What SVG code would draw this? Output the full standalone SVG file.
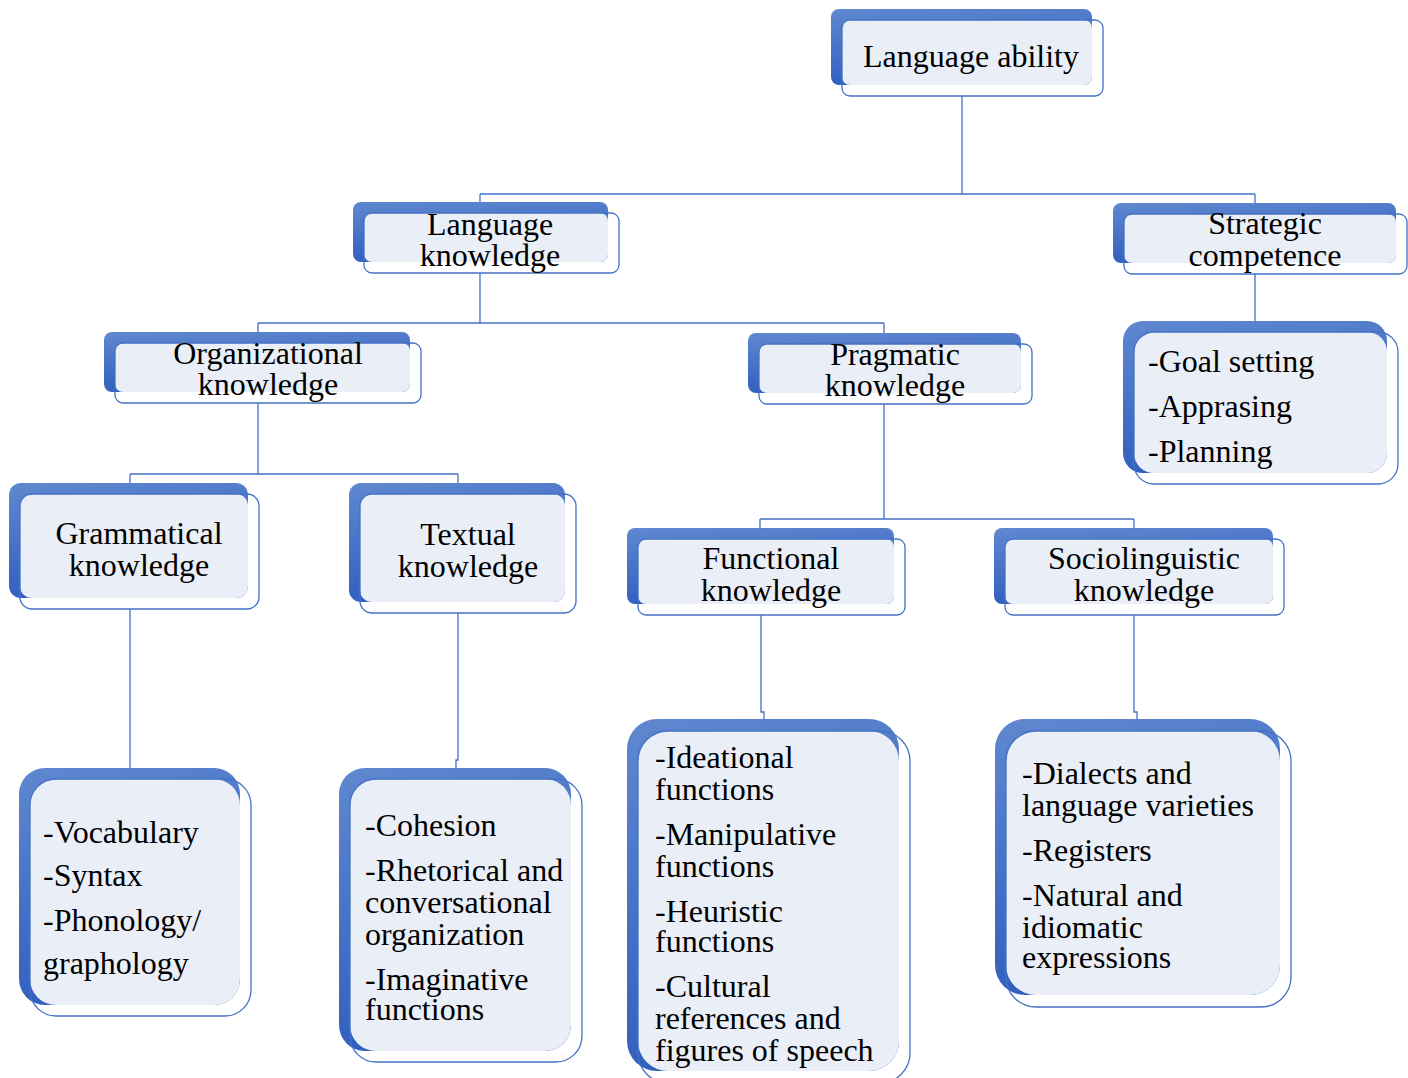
<svg xmlns="http://www.w3.org/2000/svg" width="1408" height="1078" viewBox="0 0 1408 1078">
<defs>
<linearGradient id="bg" x1="0" y1="0" x2="0.25" y2="1">
<stop offset="0" stop-color="#6088D0"/>
<stop offset="1" stop-color="#2F5EBE"/>
</linearGradient>
<style>
.back{fill:url(#bg);}
.face{fill:#E9EEF7;}
.edge{fill:none;stroke:#4472C4;stroke-width:1.3;}
.t{font-family:"Liberation Serif","Times New Roman",serif;font-size:32px;fill:#000;}
.c{text-anchor:middle;}
.conn{fill:none;stroke:#4472C4;stroke-width:1.3;}
</style>
</defs>
<rect width="1408" height="1078" fill="#fff"/>
<g id="connectors">
<path class="conn" d="M962,96 V194 M480,194 H1255 M480,194 V213 M1255,194 V214"/>
<path class="conn" d="M480,273 V323 M258,323 H884 M258,323 V343 M884,323 V344"/>
<path class="conn" d="M1255,274 V321"/>
<path class="conn" d="M258,403 V474 M130,474 H458 M130,474 V494 M458,474 V494"/>
<path class="conn" d="M884,404 V519 M760,519 H1134 M760,519 V539 M1134,519 V539"/>
<path class="conn" d="M130,609 V768"/>
<path class="conn" d="M458,613 V760 H456 V768"/>
<path class="conn" d="M761,615 V712 H764 V719"/>
<path class="conn" d="M1134,615 V712 H1137 V719"/>
</g>
<g id="n-ability">
<rect class="back" x="831" y="9" width="261" height="76" rx="8"/>
<rect class="face" x="842" y="20" width="250" height="65" rx="8"/>
<rect class="edge" x="842" y="20" width="261" height="76" rx="8"/>
<text class="t c" x="971" y="67">Language ability</text>
</g>
<g id="n-langknow">
<rect class="back" x="353" y="202" width="255" height="60" rx="8"/>
<rect class="face" x="364" y="213" width="244" height="49" rx="8"/>
<rect class="edge" x="364" y="213" width="255" height="60" rx="8"/>
<text class="t c" x="490" y="235">Language</text>
<text class="t c" x="490" y="266">knowledge</text>
</g>
<g id="n-strategic">
<rect class="back" x="1113" y="203" width="283" height="60" rx="8"/>
<rect class="face" x="1124" y="214" width="272" height="49" rx="8"/>
<rect class="edge" x="1124" y="214" width="283" height="60" rx="8"/>
<text class="t c" x="1265" y="234">Strategic</text>
<text class="t c" x="1265" y="266">competence</text>
</g>
<g id="n-org">
<rect class="back" x="104" y="332" width="306" height="60" rx="8"/>
<rect class="face" x="115" y="343" width="295" height="49" rx="8"/>
<rect class="edge" x="115" y="343" width="306" height="60" rx="8"/>
<text class="t c" x="268" y="364">Organizational</text>
<text class="t c" x="268" y="395">knowledge</text>
</g>
<g id="n-prag">
<rect class="back" x="748" y="333" width="273" height="60" rx="8"/>
<rect class="face" x="759" y="344" width="262" height="49" rx="8"/>
<rect class="edge" x="759" y="344" width="273" height="60" rx="8"/>
<text class="t c" x="895" y="365">Pragmatic</text>
<text class="t c" x="895" y="396">knowledge</text>
</g>
<g id="n-gram">
<rect class="back" x="9" y="483" width="239" height="115" rx="12"/>
<rect class="face" x="20" y="494" width="228" height="104" rx="12"/>
<rect class="edge" x="20" y="494" width="239" height="115" rx="12"/>
<text class="t c" x="139" y="544">Grammatical</text>
<text class="t c" x="139" y="576">knowledge</text>
</g>
<g id="n-text">
<rect class="back" x="349" y="483" width="216" height="119" rx="12"/>
<rect class="face" x="360" y="494" width="205" height="108" rx="12"/>
<rect class="edge" x="360" y="494" width="216" height="119" rx="12"/>
<text class="t c" x="468" y="545">Textual</text>
<text class="t c" x="468" y="577">knowledge</text>
</g>
<g id="n-func">
<rect class="back" x="627" y="528" width="267" height="76" rx="8"/>
<rect class="face" x="638" y="539" width="256" height="65" rx="8"/>
<rect class="edge" x="638" y="539" width="267" height="76" rx="8"/>
<text class="t c" x="771" y="569">Functional</text>
<text class="t c" x="771" y="601">knowledge</text>
</g>
<g id="n-socio">
<rect class="back" x="994" y="528" width="279" height="76" rx="8"/>
<rect class="face" x="1005" y="539" width="268" height="65" rx="8"/>
<rect class="edge" x="1005" y="539" width="279" height="76" rx="8"/>
<text class="t c" x="1144" y="569">Sociolinguistic</text>
<text class="t c" x="1144" y="601">knowledge</text>
</g>
<g id="n-strat-list">
<rect class="back" x="1123" y="321" width="264" height="152" rx="20"/>
<rect class="face" x="1134" y="332" width="253" height="141" rx="20"/>
<rect class="edge" x="1134" y="332" width="264" height="152" rx="20"/>
<text class="t" x="1148" y="372">-Goal setting</text>
<text class="t" x="1148" y="417">-Apprasing</text>
<text class="t" x="1148" y="462">-Planning</text>
</g>
<g id="n-gram-list">
<rect class="back" x="19" y="768" width="221" height="237" rx="26"/>
<rect class="face" x="30" y="779" width="210" height="226" rx="26"/>
<rect class="edge" x="30" y="779" width="221" height="237" rx="26"/>
<text class="t" x="43" y="843">-Vocabulary</text>
<text class="t" x="43" y="886">-Syntax</text>
<text class="t" x="43" y="931">-Phonology/</text>
<text class="t" x="43" y="974">graphology</text>
</g>
<g id="n-text-list">
<rect class="back" x="339" y="768" width="232" height="283" rx="26"/>
<rect class="face" x="350" y="779" width="221" height="272" rx="26"/>
<rect class="edge" x="350" y="779" width="232" height="283" rx="26"/>
<text class="t" x="365" y="836">-Cohesion</text>
<text class="t" x="365" y="881">-Rhetorical and</text>
<text class="t" x="365" y="913">conversational</text>
<text class="t" x="365" y="945">organization</text>
<text class="t" x="365" y="990">-Imaginative</text>
<text class="t" x="365" y="1020">functions</text>
</g>
<g id="n-func-list">
<rect class="back" x="627" y="719" width="272" height="352" rx="30"/>
<rect class="face" x="638" y="731" width="261" height="340" rx="30"/>
<rect class="edge" x="638" y="731" width="272" height="352" rx="30"/>
<text class="t" x="655" y="768">-Ideational</text>
<text class="t" x="655" y="800">functions</text>
<text class="t" x="655" y="845">-Manipulative</text>
<text class="t" x="655" y="877">functions</text>
<text class="t" x="655" y="922">-Heuristic</text>
<text class="t" x="655" y="952">functions</text>
<text class="t" x="655" y="997">-Cultural</text>
<text class="t" x="655" y="1029">references and</text>
<text class="t" x="655" y="1061">figures of speech</text>
</g>
<g id="n-socio-list">
<rect class="back" x="995" y="719" width="285" height="276" rx="30"/>
<rect class="face" x="1006" y="731" width="274" height="264" rx="30"/>
<rect class="edge" x="1006" y="731" width="285" height="276" rx="30"/>
<text class="t" x="1022" y="784">-Dialects and</text>
<text class="t" x="1022" y="816">language varieties</text>
<text class="t" x="1022" y="861">-Registers</text>
<text class="t" x="1022" y="906">-Natural and</text>
<text class="t" x="1022" y="938">idiomatic</text>
<text class="t" x="1022" y="968">expressions</text>
</g>
</svg>
